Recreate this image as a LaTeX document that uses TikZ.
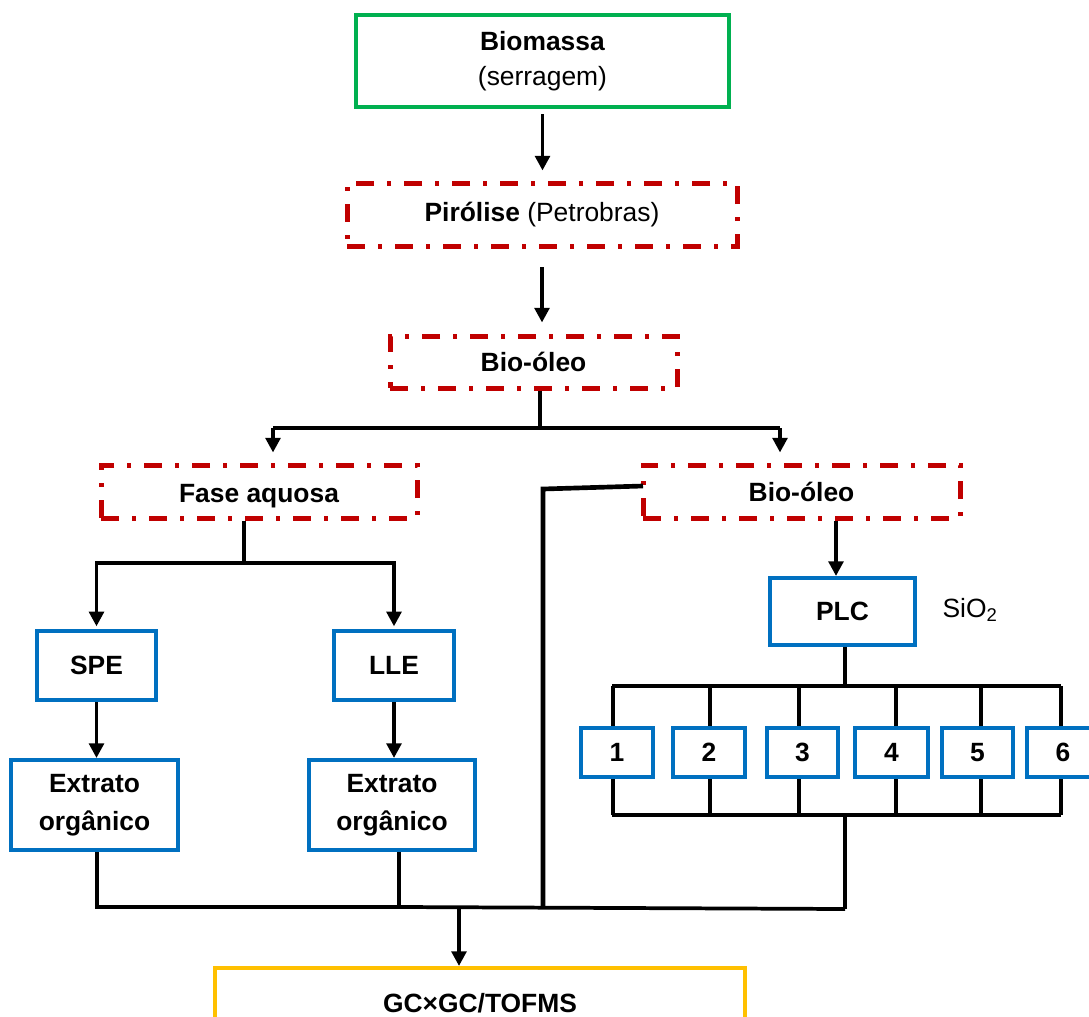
\documentclass[tikz,border=0pt]{standalone}
\usepackage{fontspec}
\setmainfont{Liberation Sans}
\usetikzlibrary{arrows.meta}
\definecolor{bgreen}{HTML}{00B050}
\definecolor{bred}{HTML}{C00000}
\definecolor{bblue}{HTML}{0070C0}
\definecolor{byellow}{HTML}{FFC000}
\tikzset{
  base/.style={inner sep=0pt, align=center, font=\fontsize{19.8}{26.25}\selectfont},
  greenbox/.style={base, draw=bgreen, line width=3pt},
  redbox/.style={base, draw=bred, line width=3.75pt, dash pattern=on 13.5pt off 9.75pt on 3pt off 9.75pt},
  bluebox/.style={base, draw=bblue, line width=3pt, font=\bfseries\fontsize{19.8}{28.5}\selectfont},
  ybox/.style={base, draw=byellow, line width=3pt},
  conn/.style={draw=black, line width=2.8pt},
  arr/.style={conn, -{Triangle[length=11pt,width=11pt]}},
  box/.style args={#1/#2}{minimum width={(#1)*0.75pt}, minimum height={(#2)*0.75pt}},
}
\begin{document}
\begin{tikzpicture}[x=0.75pt,y=-0.75pt]
\useasboundingbox (0,0) rectangle (1089,1017);
% boxes
\node[greenbox, box=373/92] (bio) at (542.5,61) {\textbf{Biomassa}\\(serragem)};
\node[redbox, box=390/63] (pir) at (542,214.5) {\textbf{Pirólise} (Petrobras)};
\node[redbox, box=287/52, font=\bfseries\fontsize{19.8}{26}\selectfont] (oleo) at (533.5,362) {\raisebox{-1.5pt}{Bio-óleo}};
\node[redbox, box=316/53, font=\bfseries\fontsize{19.8}{26}\selectfont, text depth=0pt] (fase) at (259,491.5) {\raisebox{-2.5pt}{Fase aquosa}};
\node[redbox, box=317/53, font=\bfseries\fontsize{19.8}{26}\selectfont] (bioR) at (801.5,491.5) {\raisebox{-1.5pt}{Bio-óleo}};
\node[bluebox, box=119/69] (spe) at (96.5,665.5) {SPE};
\node[bluebox, box=120/69] (lle) at (394,665.5) {LLE};
\node[bluebox, box=167/90] (ext1) at (94.5,805) {\raisebox{-3pt}{Extrato}\\\raisebox{-3pt}{orgânico}};
\node[bluebox, box=166/90] (ext2) at (392,805) {\raisebox{-3pt}{Extrato}\\\raisebox{-3pt}{orgânico}};
\node[bluebox, box=145/67] (plc) at (842.5,611.5) {PLC};
\node[base] (sio) at (970,610) {SiO\textsubscript{2}};
\node[ybox, box=530/70, font=\bfseries\fontsize{19.8}{26}\selectfont] (gc) at (480,1003) {GC×GC/TOFMS};
% top chain
\draw[arr, shorten <=3.75pt, shorten >=7.5pt] (bio.south) -- (bio.south |- pir.north);
\draw[arr, shorten <=14pt, shorten >=8.25pt] (pir.south) -- (pir.south |- oleo.north);
% split from bio-oleo
\coordinate (j1) at (540,428);
\coordinate (jl) at (273,428);
\coordinate (jr) at (780,428);
\draw[conn] (oleo.south -| j1) -- (j1);
\draw[conn] (jl) -- (jr);
\draw[arr, shorten >=7.5pt] (jl) -- (jl |- fase.north);
\draw[arr, shorten >=7.5pt] (jr) -- (jr |- bioR.north);
% fase aquosa branch
\coordinate (jf) at (244,563);
\draw[conn] (fase.south -| jf) -- (jf);
\draw[arr, shorten >=2pt] (jf) -| (spe.north);
\draw[arr, shorten >=2pt] (jf) -| (lle.north);
\draw[arr] (spe.south) -- (spe.south |- ext1.north);
\draw[arr] (lle.south) -- (lle.south |- ext2.north);
% bottom collector
\coordinate (c1) at (97,907);
\coordinate (c2) at (399,907);
\coordinate (cr) at (845,909);
\coordinate (jg) at (459,907);
\coordinate (jb) at (543,907);
\draw[conn] (ext1.south -| c1) -- (c1) -- (c2) -- (cr);
\draw[conn] (ext2.south -| c2) -- (c2);
\draw[arr] (jg) -- (jg |- gc.north);
% direct line from bio-oleo
\coordinate (kb) at (543,489);
\coordinate (kr) at (643,486);
\draw[conn, line width=3.5pt] (jb) -- (kb) -- (kr);
% PLC branch
\coordinate (kp) at (836,0);
\draw[arr] (bioR.south -| kp) -- (plc.north -| kp);
\coordinate (pt) at (845,686);
\coordinate (pb) at (845,815);
\draw[conn] (plc.south -| pt) -- (pt);
\draw[conn] (612,686) coordinate (tl) -- (1061,686) coordinate (tr);
\draw[conn] (612,815) coordinate (bl) -- (1061,815) coordinate (br);
\draw[conn] (pb) -- (cr);
\foreach \i/\xa/\xb/\lx in {1/581/653/613, 2/673/745/710, 3/767/838/799, 4/855/928/896, 5/942/1013/981, 6/1027/1099/1061} {
  \node[bluebox, box={\xb-\xa}/49] (n\i) at ({(\xa+\xb)/2},752.5) {\raisebox{-2pt}{\i}};
  \coordinate (t\i) at (\lx,686);
  \coordinate (b\i) at (\lx,815);
  \draw[conn] (t\i) -- (t\i |- n\i.north);
  \draw[conn] (n\i.south -| b\i) -- (b\i);
}
\end{tikzpicture}
\end{document}
